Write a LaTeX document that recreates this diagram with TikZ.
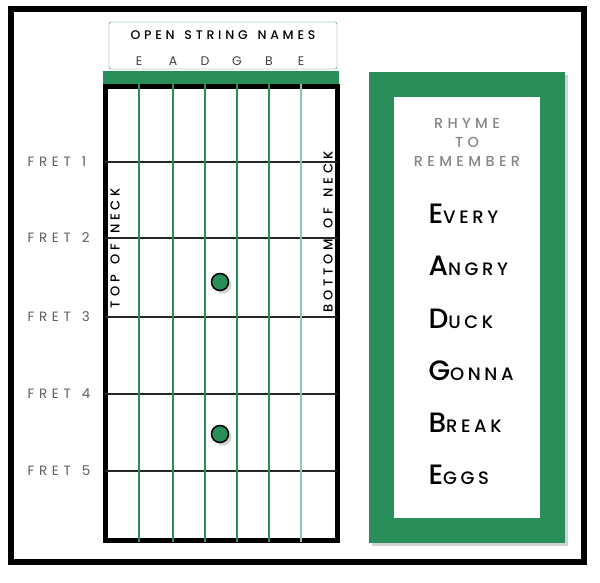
\documentclass[tikz,border=0pt]{standalone}
\usepackage{fontspec}
\setmainfont{Poppins}
\newfontfamily\widefont[LetterSpace=35]{Poppins}
\newfontfamily\heavyfont[LetterSpace=30,WordSpace=1.4]{Poppins Medium}
\newfontfamily\midfont[LetterSpace=20]{Poppins Medium}
\usetikzlibrary{shadows}
\definecolor{neckgreen}{RGB}{41,142,90}
\definecolor{palegreen}{RGB}{140,200,165}
\definecolor{fretgray}{RGB}{95,95,95}
\definecolor{rhymegray}{RGB}{135,135,135}

\newcommand{\rhymeword}[2]{{\fontsize{28}{30}\selectfont #1}{\fontsize{18}{20}\selectfont #2}}

\begin{document}
\begin{tikzpicture}[x=1pt,y=-1pt,
  softshadow/.style={drop shadow={opacity=0.35,shadow xshift=3pt,shadow yshift=-3pt}},
  fretlabel/.style={anchor=west,text=fretgray,font=\widefont\fontsize{13.5}{15}\selectfont},
  stringname/.style={text=black!75,font=\fontsize{12.5}{14}\selectfont},
  necklabel/.style={rotate=90,font=\heavyfont\fontsize{13}{15}\selectfont},
  rhyme/.style={anchor=west,font=\midfont}]
\useasboundingbox (0,0) rectangle (600,582);
\fill[white] (0,0) rectangle (600,582);
% The outer frame
\draw[line width=6pt,fill=white,softshadow] (11,9) rectangle (584,562);

% Open string names
\draw[neckgreen,rounded corners=2pt] (109,22) rectangle (337,69);
\node[font=\heavyfont\fontsize{12.5}{14}\selectfont] (title) at (223,35) {OPEN STRING NAMES};

% The neck
\fill[neckgreen] (103,71) rectangle (339,84);
\draw[line width=5pt,fill=white,softshadow] (105,86) coordinate (nw) rectangle (337,540) coordinate (se);

% The frets
\foreach \y/\n in {162/1,238/2,317/3,394/4,471/5}
{
  \draw[line width=1.1pt,black!85] (105,\y) -- (337,\y);
  \node[fretlabel] (fret\n) at (24,\y) {FRET\hspace{11pt}\n};
}

% The strings
\foreach \x/\w/\c/\s [count=\i] in {139/2.6/neckgreen/E,173/2.4/neckgreen/A,205/2/neckgreen/D,237/1.8/neckgreen/G,269/1.5/neckgreen/B,301/1.2/palegreen/E}
{
  \draw[line width=\w pt,\c] (\x,84) -- (\x,542);
  \node[stringname] (name\i) at (\x,61) {\s};
}

\node[necklabel] (top) at (115,248) {TOP OF NECK};
\node[necklabel] (bottom) at (328,232) {BOTTOM OF NECK};

% Dots
\draw[fill=neckgreen,line width=1.5pt,softshadow] (220,282) circle (8.5);
\draw[fill=neckgreen,line width=1.5pt,softshadow] (220,434) circle (8.5);

% Rhyme box
\fill[neckgreen,softshadow] (369,72) rectangle (565,543);
\fill[white] (394,97) rectangle (540,518);
\node[align=center,text=rhymegray,font=\heavyfont\fontsize{14.5}{19}\selectfont] (head) at (467,142) {RHYME\\TO\\REMEMBER};
\node[rhyme] (every) at (425,214) {\rhymeword{E}{VERY}};
\node[rhyme] (angry) at (425,266) {\rhymeword{A}{NGRY}};
\node[rhyme] (duck) at (425,319) {\rhymeword{D}{UCK}};
\node[rhyme] (gonna) at (425,371) {\rhymeword{G}{ONNA}};
\node[rhyme] (break) at (425,423) {\rhymeword{B}{REAK}};
\node[rhyme] (eggs) at (425,475) {\rhymeword{E}{GGS}};
\end{tikzpicture}
\end{document}
